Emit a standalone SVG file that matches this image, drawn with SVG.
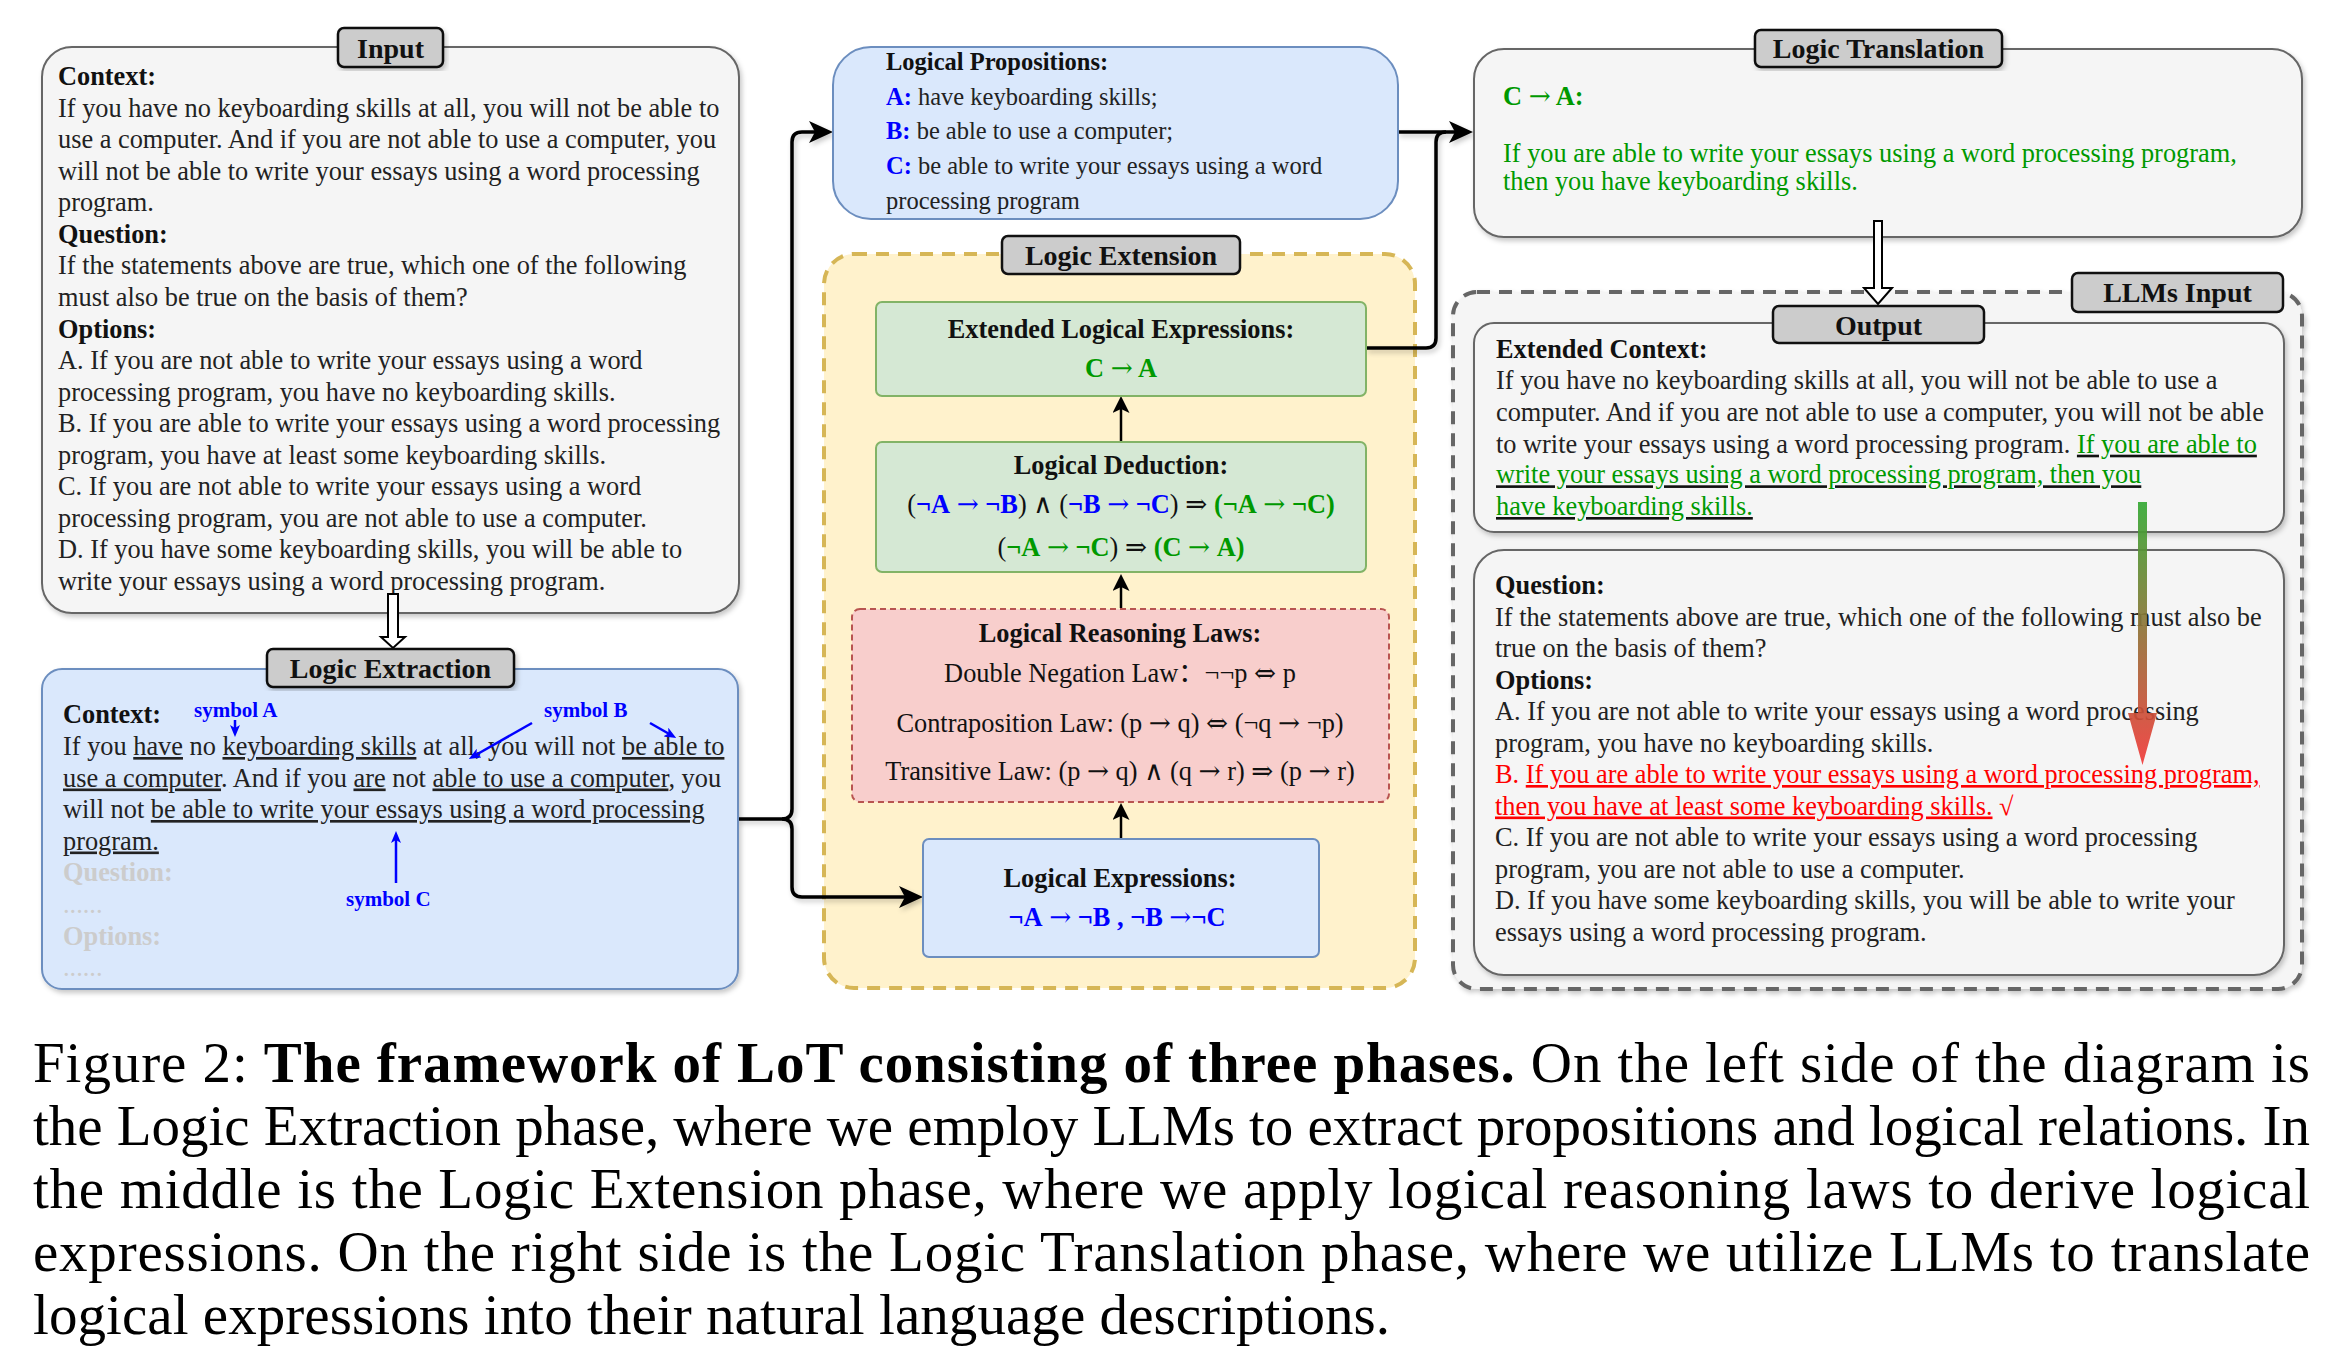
<svg xmlns="http://www.w3.org/2000/svg" width="2344" height="1354" viewBox="0 0 2344 1354">
<style>
.t{font-family:"Liberation Serif","Times New Roman","Noto Sans CJK SC",serif;font-size:26.35px;fill:#222}
.s24{font-size:24.5px}
.b{font-weight:bold}
.m{text-anchor:middle}
.ar{font-family:"DejaVu Serif",serif;font-weight:normal}
.blk{fill:#111}
.blu{fill:#0000ff}
.grn{fill:#009900}
.red{fill:#ff0000}
.gry{fill:#cccccc}
.u{text-decoration:underline}
.tab{fill:#cccccc;stroke:#111;stroke-width:2.5}
.tabt{font-family:"Liberation Serif","Times New Roman",serif;font-size:28px;font-weight:bold;fill:#111;text-anchor:middle}
.gbox{fill:#f5f5f5;stroke:#666;stroke-width:2}
.bbox{fill:#dae8fc;stroke:#6c8ebf;stroke-width:2}
.vbox{fill:#d5e8d4;stroke:#82b366;stroke-width:2}
.conn{fill:none;stroke:#000;stroke-width:3.5}
.up{fill:none;stroke:#000;stroke-width:2.5}
.hol{fill:#fff;stroke:#000;stroke-width:2}
.sym{font-family:"Liberation Serif","Times New Roman",serif;font-size:21px;font-weight:bold;fill:#0000ff}
.sl{stroke:#0000ff;stroke-width:2.5;fill:none}
.cap{font-family:"Liberation Serif","Times New Roman",serif;font-size:57px;fill:#000}
</style>
<defs>
<filter id="sh" x="-5%" y="-5%" width="110%" height="115%">
<feDropShadow dx="2" dy="3" stdDeviation="2.5" flood-color="#000" flood-opacity="0.22"/>
</filter>
<filter id="shc" filterUnits="userSpaceOnUse" x="0" y="0" width="2344" height="1354">
<feDropShadow dx="2" dy="3" stdDeviation="2.5" flood-color="#000" flood-opacity="0.22"/>
</filter>
<marker id="ah" markerUnits="userSpaceOnUse" markerWidth="24" markerHeight="22" refX="10" refY="11" orient="auto">
<path d="M0,0 L24,11 L0,22 L6,11 Z" fill="#000"/>
</marker>
<marker id="as" markerUnits="userSpaceOnUse" markerWidth="17" markerHeight="17" refX="7" refY="8.5" orient="auto">
<path d="M0,0 L17,8.5 L0,17 L4,8.5 Z" fill="#000"/>
</marker>
<marker id="ab" markerUnits="userSpaceOnUse" markerWidth="12" markerHeight="10" refX="6" refY="5" orient="auto">
<path d="M0,0 L12,5 L0,10 L3,5 Z" fill="#0000ff"/>
</marker>
<linearGradient id="gr" gradientUnits="userSpaceOnUse" x1="0" y1="502" x2="0" y2="765">
<stop offset="0" stop-color="#34a934"/>
<stop offset="1" stop-color="#f23a3a"/>
</linearGradient>
</defs>
<rect width="2344" height="1354" fill="#fff"/>

<!-- Containers -->
<g id="logic-extension-group">
<rect x="824" y="254" width="591" height="734" rx="30" fill="#fff2cc" stroke="#d6b656" stroke-width="4" stroke-dasharray="13 9"/>
</g>
<g id="llms-input-group">
<rect x="1453" y="292" width="849" height="697" rx="24" fill="#f5f5f5" stroke="#666" stroke-width="4" stroke-dasharray="13 9" filter="url(#sh)"/>
</g>

<!-- Connectors -->
<g id="connectors">
<g filter="url(#shc)">
<path class="conn" d="M738,819 H782 Q792,819 792,809 V142 Q792,132 802,132 H819" marker-end="url(#ah)"/>
<path class="conn" d="M782,819 Q792,819 792,829 V887 Q792,897 802,897 H909" marker-end="url(#ah)"/>
<path class="conn" d="M1398,132 H1459" marker-end="url(#ah)"/>
<path class="conn" d="M1366,348 H1426 Q1436,348 1436,338 V142 Q1436,132 1446,132"/>
</g>
<path class="up" d="M1121,442 V406" marker-end="url(#as)"/>
<path class="up" d="M1121,608 V584" marker-end="url(#as)"/>
<path class="up" d="M1121,839 V813" marker-end="url(#as)"/>
</g>

<g id="input">
<rect class="gbox" x="42" y="47" width="697" height="566" rx="30" filter="url(#sh)"/>
<text class="t"><tspan class="b blk" x="58" y="85">Context:</tspan>
<tspan x="58" y="116.6">If you have no keyboarding skills at all, you will not be able to</tspan>
<tspan x="58" y="148.1">use a computer. And if you are not able to use a computer, you</tspan>
<tspan x="58" y="179.7">will not be able to write your essays using a word processing</tspan>
<tspan x="58" y="211.2">program.</tspan>
<tspan class="b blk" x="58" y="242.8">Question:</tspan>
<tspan x="58" y="274.4">If the statements above are true, which one of the following</tspan>
<tspan x="58" y="305.9">must also be true on the basis of them?</tspan>
<tspan class="b blk" x="58" y="337.5">Options:</tspan>
<tspan x="58" y="369">A. If you are not able to write your essays using a word</tspan>
<tspan x="58" y="400.6">processing program, you have no keyboarding skills.</tspan>
<tspan x="58" y="432.2">B. If you are able to write your essays using a word processing</tspan>
<tspan x="58" y="463.7">program, you have at least some keyboarding skills.</tspan>
<tspan x="58" y="495.3">C. If you are not able to write your essays using a word</tspan>
<tspan x="58" y="526.8">processing program, you are not able to use a computer.</tspan>
<tspan x="58" y="558.4">D. If you have some keyboarding skills, you will be able to</tspan>
<tspan x="58" y="590">write your essays using a word processing program.</tspan></text>
<rect class="tab" x="338" y="28" width="105" height="39" rx="6" filter="url(#sh)"/>
<text class="tabt" x="390.5" y="58">Input</text>
</g>

<g id="arrow-input-extraction">
<path class="hol" d="M388,594 H398 V637 H405 L393,648 L381,637 H388 Z"/>
</g>

<g id="logic-extraction">
<rect class="bbox" x="42" y="669" width="696" height="320" rx="20" filter="url(#sh)"/>
<text class="t"><tspan class="b blk" x="63" y="723">Context:</tspan>
<tspan x="63" y="755">If you <tspan class="u">have</tspan> no <tspan class="u">keyboarding skills</tspan> at all, you will not <tspan class="u">be able to</tspan></tspan>
<tspan x="63" y="786.5"><tspan class="u">use a computer</tspan>. And if you <tspan class="u">are</tspan> not <tspan class="u">able to use a computer</tspan>, you</tspan>
<tspan x="63" y="818">will not <tspan class="u">be able to write your essays using a word processing</tspan></tspan>
<tspan x="63" y="849.5" class="u">program.</tspan>
<tspan class="b gry" x="63" y="881">Question:</tspan>
<tspan class="gry" x="63" y="913">......</tspan>
<tspan class="b gry" x="63" y="944.5">Options:</tspan>
<tspan class="gry" x="63" y="976">......</tspan></text>
<text class="sym" x="194" y="717">symbol A</text>
<text class="sym" x="544" y="717">symbol B</text>
<text class="sym" x="346" y="906">symbol C</text>
<path class="sl" d="M235,720 V731" marker-end="url(#ab)"/>
<path class="sl" d="M532,723 L474,756" marker-end="url(#ab)"/>
<path class="sl" d="M650,723 L671,735" marker-end="url(#ab)"/>
<path class="sl" d="M396,883 V837" marker-end="url(#ab)"/>
<rect class="tab" x="267" y="649" width="247" height="38" rx="6" filter="url(#sh)"/>
<text class="tabt" x="390.5" y="678">Logic Extraction</text>
</g>

<g id="logical-propositions">
<rect class="bbox" x="833" y="47" width="565" height="172" rx="38"/>
<text class="t s24"><tspan class="b blk" x="886" y="70">Logical Propositions:</tspan>
<tspan x="886" y="104.7"><tspan class="b blu">A:</tspan> have keyboarding skills;</tspan>
<tspan x="886" y="139.4"><tspan class="b blu">B:</tspan> be able to use a computer;</tspan>
<tspan x="886" y="174.1"><tspan class="b blu">C:</tspan> be able to write your essays using a word</tspan>
<tspan x="886" y="208.8">processing program</tspan></text>
</g>

<g id="logic-extension-tab">
<rect class="tab" x="1002" y="236" width="238" height="38" rx="6"/>
<text class="tabt" x="1121" y="265">Logic Extension</text>
</g>

<g id="extended-logical-expressions">
<rect class="vbox" x="876" y="302" width="490" height="94" rx="6"/>
<text class="t b blk m" x="1121" y="338">Extended Logical Expressions:</text>
<text class="t b grn m" x="1121" y="377">C <tspan class="ar">→</tspan> A</text>
</g>

<g id="logical-deduction">
<rect class="vbox" x="876" y="442" width="490" height="130" rx="6"/>
<text class="t b blk m" x="1121" y="474">Logical Deduction:</text>
<text class="t blk m" x="1121" y="513">(<tspan class="b blu">¬A</tspan><tspan class="blu"> <tspan class="ar">→</tspan> </tspan><tspan class="b blu">¬B</tspan>) <tspan class="ar">∧</tspan> (<tspan class="b blu">¬B</tspan><tspan class="blu"> <tspan class="ar">→</tspan> </tspan><tspan class="b blu">¬C</tspan>) <tspan class="ar">⇒</tspan> <tspan class="b grn">(¬A</tspan><tspan class="grn"> <tspan class="ar">→</tspan> </tspan><tspan class="b grn">¬C)</tspan></text>
<text class="t blk m" x="1121" y="556">(<tspan class="b grn">¬A</tspan><tspan class="grn"> <tspan class="ar">→</tspan> </tspan><tspan class="b grn">¬C</tspan>) <tspan class="ar">⇒</tspan> <tspan class="b grn">(C</tspan><tspan class="grn"> <tspan class="ar">→</tspan> </tspan><tspan class="b grn">A)</tspan></text>
</g>

<g id="logical-reasoning-laws">
<rect x="852" y="609" width="537" height="193" rx="8" fill="#f8cecc" stroke="#b85450" stroke-width="2" stroke-dasharray="6 4"/>
<text class="t b blk m" x="1120" y="642">Logical Reasoning Laws:</text>
<text class="t blk m" x="1120" y="682">Double Negation Law：¬¬p <tspan class="ar">⇔</tspan> p</text>
<text class="t blk m" x="1120" y="732">Contraposition Law: (p <tspan class="ar">→</tspan> q) <tspan class="ar">⇔</tspan> (¬q <tspan class="ar">→</tspan> ¬p)</text>
<text class="t blk m" x="1120" y="780">Transitive Law: (p <tspan class="ar">→</tspan> q) <tspan class="ar">∧</tspan> (q <tspan class="ar">→</tspan> r) <tspan class="ar">⇒</tspan> (p <tspan class="ar">→</tspan> r)</text>
</g>

<g id="logical-expressions">
<rect class="bbox" x="923" y="839" width="396" height="118" rx="6"/>
<text class="t b blk m" x="1120" y="887">Logical Expressions:</text>
<text class="t blu m" x="1117" y="926"><tspan class="b">¬A</tspan> <tspan class="ar">→</tspan> <tspan class="b">¬B , ¬B</tspan> <tspan class="ar">→</tspan><tspan class="b">¬C</tspan></text>
</g>

<g id="logic-translation">
<rect class="gbox" x="1474" y="49" width="828" height="188" rx="30" filter="url(#sh)"/>
<text class="t grn"><tspan class="b" x="1503" y="105">C <tspan class="ar">→</tspan> A:</tspan>
<tspan x="1503" y="162">If you are able to write your essays using a word processing program,</tspan>
<tspan x="1503" y="190">then you have keyboarding skills.</tspan></text>
<rect class="tab" x="1755" y="30" width="247" height="37" rx="6" filter="url(#sh)"/>
<text class="tabt" x="1878.5" y="58">Logic Translation</text>
</g>

<g id="arrow-translation-output">
<path class="hol" d="M1874,221 H1882 V288 H1892 L1878,304 L1864,288 H1874 Z"/>
</g>

<g id="llms-input-tab">
<rect class="tab" x="2072" y="273" width="211" height="39" rx="6"/>
<text class="tabt" x="2177.5" y="302">LLMs Input</text>
</g>

<g id="output">
<rect class="gbox" x="1474" y="323" width="810" height="209" rx="20" filter="url(#sh)"/>
<text class="t"><tspan class="b blk" x="1496" y="358">Extended Context:</tspan>
<tspan x="1496" y="389.3">If you have no keyboarding skills at all, you will not be able to use a</tspan>
<tspan x="1496" y="420.7">computer. And if you are not able to use a computer, you will not be able</tspan>
<tspan x="1496" y="452.7">to write your essays using a word processing program. <tspan class="u blk"><tspan class="grn">If you are able to</tspan></tspan></tspan>
<tspan x="1496" y="483.3" class="u blk"><tspan class="grn">write your essays using a word processing program, then you</tspan></tspan>
<tspan x="1496" y="515" class="u blk"><tspan class="grn">have keyboarding skills.</tspan></tspan></text>
<rect class="tab" x="1773" y="306" width="211" height="37" rx="6"/>
<text class="tabt" x="1878.5" y="335">Output</text>
</g>

<g id="question">
<rect class="gbox" x="1474" y="550" width="810" height="425" rx="30" filter="url(#sh)"/>
<text class="t"><tspan class="b blk" x="1495" y="594">Question:</tspan>
<tspan x="1495" y="625.5">If the statements above are true, which one of the following must also be</tspan>
<tspan x="1495" y="657">true on the basis of them?</tspan>
<tspan class="b blk" x="1495" y="688.5">Options:</tspan>
<tspan x="1495" y="720">A. If you are not able to write your essays using a word processing</tspan>
<tspan x="1495" y="751.5">program, you have no keyboarding skills.</tspan>
<tspan x="1495" y="783" class="red">B. <tspan class="u">If you are able to write your essays using a word processing program,</tspan></tspan>
<tspan x="1495" y="814.5" class="red"><tspan class="u">then you have at least some keyboarding skills.</tspan> √</tspan>
<tspan x="1495" y="846">C. If you are not able to write your essays using a word processing</tspan>
<tspan x="1495" y="877.5">program, you are not able to use a computer.</tspan>
<tspan x="1495" y="909">D. If you have some keyboarding skills, you will be able to write your</tspan>
<tspan x="1495" y="940.5">essays using a word processing program.</tspan></text>
</g>

<g id="gradient-arrow">
<path d="M2138,502 H2147 V713 H2157 L2142.5,765 L2128,713 H2138 Z" fill="url(#gr)" opacity="0.92"/>
</g>

<g id="caption">
<text class="cap" x="33" y="1082" textLength="2277" lengthAdjust="spacing">Figure 2: <tspan font-weight="bold">The framework of LoT consisting of three phases.</tspan> On the left side of the diagram is</text>
<text class="cap" x="33" y="1145" textLength="2277" lengthAdjust="spacing">the Logic Extraction phase, where we employ LLMs to extract propositions and logical relations. In</text>
<text class="cap" x="33" y="1208" textLength="2277" lengthAdjust="spacing">the middle is the Logic Extension phase, where we apply logical reasoning laws to derive logical</text>
<text class="cap" x="33" y="1271" textLength="2277" lengthAdjust="spacing">expressions. On the right side is the Logic Translation phase, where we utilize LLMs to translate</text>
<text class="cap" x="33" y="1334" textLength="1357" lengthAdjust="spacing">logical expressions into their natural language descriptions.</text>
</g>
</svg>
